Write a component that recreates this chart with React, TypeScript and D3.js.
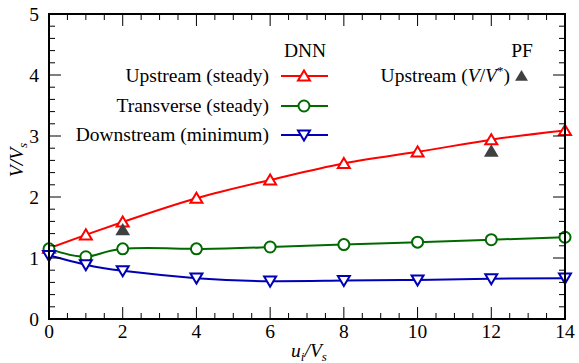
import React from 'react'
import * as d3 from 'd3'

// values
const xs = [0, 1, 2, 4, 6, 8, 10, 12, 14]
const upstream = [1.16, 1.38, 1.59, 1.98, 2.28, 2.55, 2.74, 2.94, 3.09]
const transverse = [1.15, 1.02, 1.15, 1.15, 1.18, 1.22, 1.26, 1.30, 1.34]
const downstream = [1.04, 0.89, 0.79, 0.67, 0.62, 0.63, 0.64, 0.66, 0.67]
const pfX = [2, 12]
const pfUpstream = [1.46, 2.75]
const xTicks = [0, 2, 4, 6, 8, 10, 12, 14]
const yTicks = [0, 1, 2, 3, 4, 5]
const legendLabels = ['Upstream (steady)', 'Transverse (steady)', 'Downstream (minimum)']

const W = 579, H = 363
const margin = { left: 49, right: 14, top: 14, bottom: 44 }
const tf = { fontFamily: "'Liberation Serif'", fontSize: 19.5 }

const RED = '#ff0000', GREEN = '#006a00', BLUE = '#0000b4', GRAY = '#404040'

const triUp = (cx: number, cy: number, s: number) =>
  `M${cx},${cy - s} L${cx + s * 0.92},${cy + s * 0.55} L${cx - s * 0.92},${cy + s * 0.55} Z`
const triDown = (cx: number, cy: number, s: number) =>
  `M${cx},${cy + s} L${cx + s * 0.92},${cy - s * 0.55} L${cx - s * 0.92},${cy - s * 0.55} Z`

export default function App() {
  const x = d3.scaleLinear().domain([0, 14]).range([margin.left, W - margin.right])
  const y = d3.scaleLinear().domain([0, 5]).range([H - margin.bottom, margin.top])
  const line = d3.line<[number, number]>()
    .x(d => x(d[0])).y(d => y(d[1])).curve(d3.curveNatural)

  const series = [
    { vals: upstream, color: RED, kind: 'up' },
    { vals: transverse, color: GREEN, kind: 'circle' },
    { vals: downstream, color: BLUE, kind: 'down' },
  ]

  const marker = (kind: string, cx: number, cy: number, color: string, key: any) => {
    if (kind === 'circle')
      return <circle key={key} cx={cx} cy={cy} r={5.5} fill="white" stroke={color} strokeWidth={2} />
    const d = kind === 'up' ? triUp(cx, cy + 1, 6.5) : triDown(cx, cy - 1, 6.5)
    return <path key={key} d={d} fill="white" stroke={color} strokeWidth={2} />
  }

  const xMinor = d3.range(0, 14.01, 0.5)
  const yMinor = d3.range(0, 5.01, 0.2)
  const [x0, x1] = x.range()
  const [y0, y1] = y.range()

  const legY = [76, 106, 135]
  const sub = { fontSize: 13 }

  return (
    <svg width={W} height={H} style={{ position: 'absolute', left: 0, top: 0 }}>
      <rect width={W} height={H} fill="white" />

      {/* curves */}
      {series.map((s, i) => (
        <path key={i} d={line(xs.map((v, j) => [v, s.vals[j]]) as [number, number][]) || ''}
          fill="none" stroke={s.color} strokeWidth={2} />
      ))}
      {series.map((s, i) => xs.map((v, j) => marker(s.kind, x(v), y(s.vals[j]), s.color, `${i}-${j}`)))}

      {/* PF points */}
      {pfX.map((v, i) => (
        <path key={i} d={triUp(x(v), y(pfUpstream[i]) + 1, 8)} fill={GRAY} />
      ))}

      {/* ticks */}
      <g stroke="black" strokeWidth={1}>
        {xMinor.map((v, i) => {
          const len = Math.abs(v % 2) < 1e-6 ? 12 : 6
          return <g key={i}>
            <line x1={x(v)} x2={x(v)} y1={y0} y2={y0 - len} />
            <line x1={x(v)} x2={x(v)} y1={y1} y2={y1 + len} />
          </g>
        })}
        {yMinor.map((v, i) => {
          const len = Math.abs(v - Math.round(v)) < 1e-6 ? 12 : 6
          return <g key={i}>
            <line x1={x0} x2={x0 + len} y1={y(v)} y2={y(v)} />
            <line x1={x1} x2={x1 - len} y1={y(v)} y2={y(v)} />
          </g>
        })}
      </g>
      <rect x={x0} y={y1} width={x1 - x0} height={y0 - y1} fill="none" stroke="black" strokeWidth={2} />

      {/* tick labels */}
      {xTicks.map(v => (
        <text key={v} style={tf} x={x(v)} y={y0 + 19} textAnchor="middle">{v}</text>
      ))}
      {yTicks.map(v => (
        <text key={v} style={tf} x={x0 - 10} y={y(v) + 6.5} textAnchor="end">{v}</text>
      ))}

      {/* axis labels */}
      <text style={tf} x={309} y={357} textAnchor="middle" fontStyle="italic">
        u<tspan style={sub} dy={4}>i</tspan><tspan dy={-4}>/V</tspan><tspan style={sub} dy={4}>s</tspan>
      </text>
      <text style={tf} transform={`translate(23,${160}) rotate(-90)`} textAnchor="middle" fontStyle="italic">
        V/V<tspan style={sub} dy={4}>s</tspan>
      </text>

      {/* legend */}
      <text style={tf} x={305} y={57} textAnchor="middle">DNN</text>
      {legendLabels.map((t, i) => (
        <g key={i}>
          <text style={tf} x={269} y={legY[i] + 6} textAnchor="end">{t}</text>
          <line x1={281} x2={328} y1={legY[i]} y2={legY[i]} stroke={series[i].color} strokeWidth={2} />
          {marker(series[i].kind, 304, legY[i], series[i].color, 'l' + i)}
        </g>
      ))}
      <text style={tf} x={522} y={57} textAnchor="middle">PF</text>
      <text style={tf} x={510} y={82} textAnchor="end">
        Upstream (<tspan fontStyle="italic">V</tspan>/<tspan fontStyle="italic">V</tspan><tspan style={sub} dy={-7}>*</tspan><tspan dy={7}>)</tspan>
      </text>
      <path d={triUp(521.5, 77, 7)} fill={GRAY} />
    </svg>
  )
}
